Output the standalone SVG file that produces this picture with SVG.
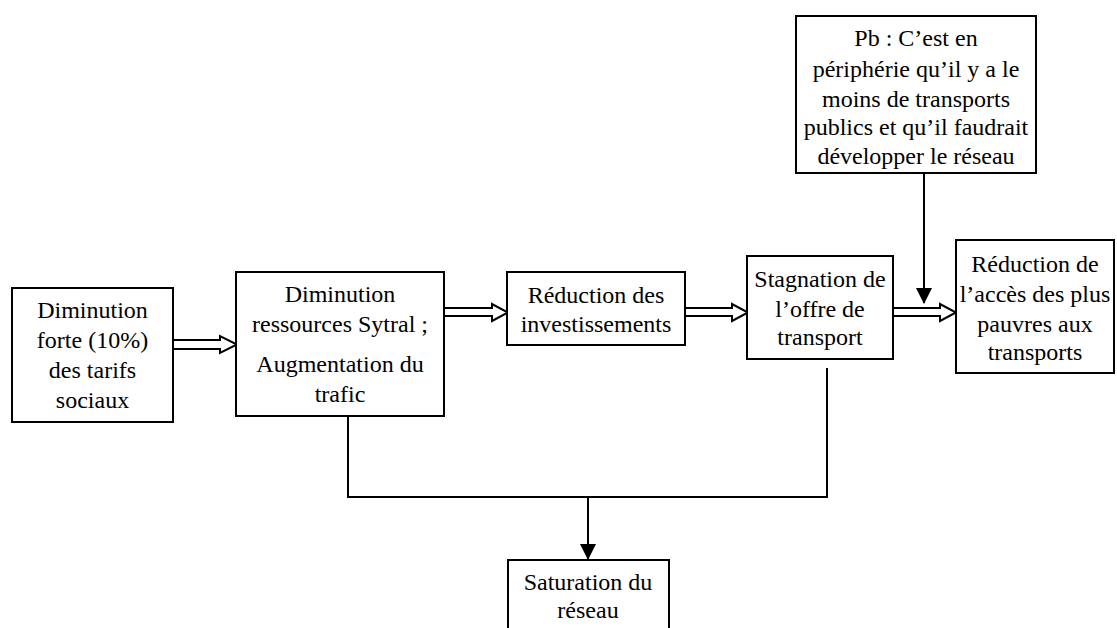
<svg xmlns="http://www.w3.org/2000/svg" width="1117" height="628" viewBox="0 0 1117 628">
<style>
.box{fill:#fff;stroke:#000;stroke-width:2}
.t{font-family:'Liberation Serif','DejaVu Serif','Noto Serif',serif;font-size:24px;fill:#000;text-anchor:middle}
.ln{fill:none;stroke:#000;stroke-width:2}
.ha{fill:#fff;stroke:#000;stroke-width:2;stroke-linejoin:miter}
</style>
<defs>
<marker id="ah" markerWidth="16" markerHeight="16" viewBox="0 0 16 16" refX="15" refY="8" orient="auto" markerUnits="userSpaceOnUse">
<path d="M0,0 L16,8 L0,16 Z" fill="#000"/>
</marker>
</defs>
<rect width="1117" height="628" fill="#fff"/>
<g id="connectors">
<polygon class="ha" points="173,340 220,340 220,336 237,344.5 220,353 220,349 173,349"/>
<polygon class="ha" points="444,308 492,308 492,304 508,312.5 492,321 492,316 444,316"/>
<polygon class="ha" points="685,308 732,308 732,304 748,312.5 732,321 732,316 685,316"/>
<polygon class="ha" points="893,308 940,308 940,304 956,312.5 940,321 940,316 893,316"/>
<line class="ln" x1="924" y1="173" x2="924" y2="303" marker-end="url(#ah)"/>
<polyline class="ln" points="348,416 348,497 827,497 827,368"/>
<line class="ln" x1="588" y1="497" x2="588" y2="559" marker-end="url(#ah)"/>
</g>
<g id="n1">
<rect class="box" x="12" y="288" width="161" height="134"/>
<text class="t" x="92.5" y="318" font-family="Liberation Serif, serif">Diminution</text>
<text class="t" x="92.5" y="348">forte (10%)</text>
<text class="t" x="92.5" y="378">des tarifs</text>
<text class="t" x="92.5" y="408">sociaux</text>
</g>
<g id="n2">
<rect class="box" x="236" y="272" width="208" height="144"/>
<text class="t" x="340" y="302">Diminution</text>
<text class="t" x="340" y="332">ressources Sytral ;</text>
<text class="t" x="340" y="372">Augmentation du</text>
<text class="t" x="340" y="402">trafic</text>
</g>
<g id="n3">
<rect class="box" x="507" y="272" width="178" height="73"/>
<text class="t" x="596" y="303">Réduction des</text>
<text class="t" x="596" y="332">investissements</text>
</g>
<g id="n4">
<rect class="box" x="747" y="256" width="146" height="103"/>
<text class="t" x="820" y="287">Stagnation de</text>
<text class="t" x="820" y="317">l’offre de</text>
<text class="t" x="820" y="345">transport</text>
</g>
<g id="n5">
<rect class="box" x="796" y="16" width="240" height="157"/>
<text class="t" x="916" y="46">Pb : C’est en</text>
<text class="t" x="916" y="77">périphérie qu’il y a le</text>
<text class="t" x="916" y="107">moins de transports</text>
<text class="t" x="916" y="135">publics et qu’il faudrait</text>
<text class="t" x="916" y="164">développer le réseau</text>
</g>
<g id="n6">
<rect class="box" x="956" y="240" width="158" height="133"/>
<text class="t" x="1035" y="272">Réduction de</text>
<text class="t" x="1035" y="302">l’accès des plus</text>
<text class="t" x="1035" y="332">pauvres aux</text>
<text class="t" x="1035" y="360">transports</text>
</g>
<g id="n7">
<rect class="box" x="508" y="560" width="161" height="80"/>
<text class="t" x="588" y="590">Saturation du</text>
<text class="t" x="588" y="618">réseau</text>
</g>
</svg>
